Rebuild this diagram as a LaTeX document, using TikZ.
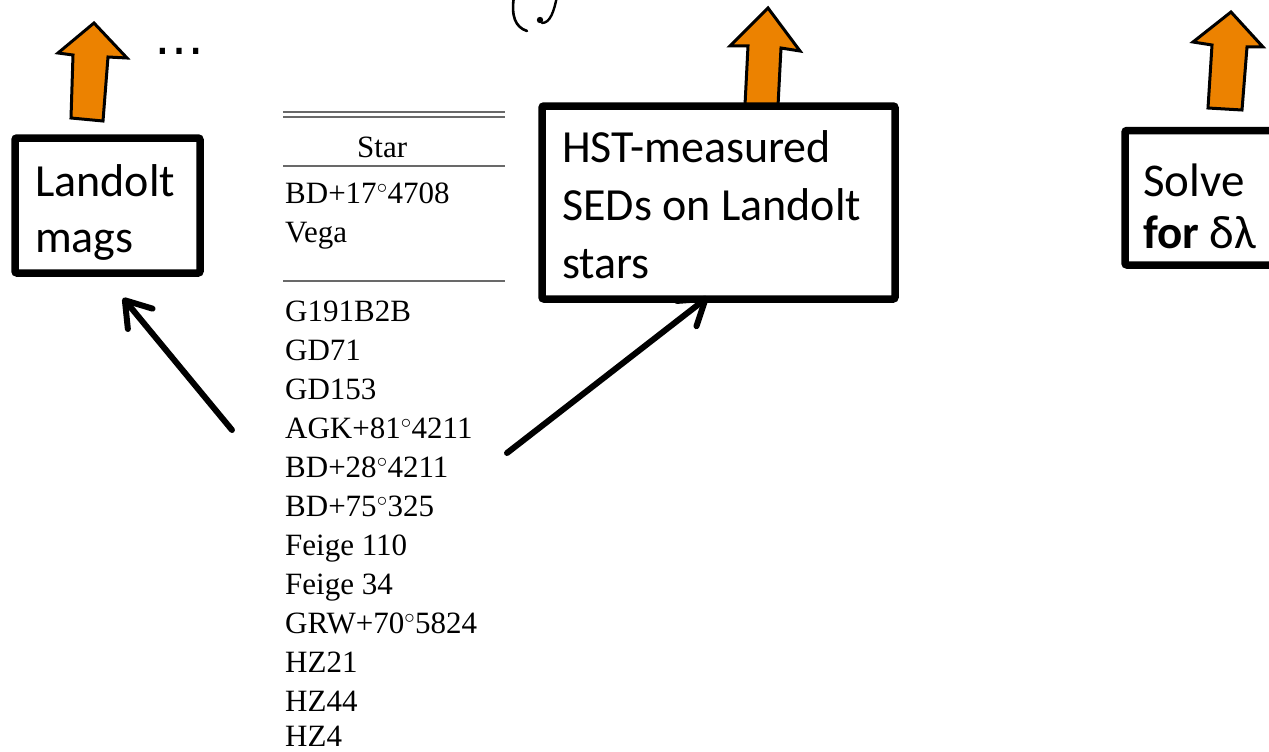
\documentclass[tikz,border=0pt]{standalone}
\usepackage{fontspec}
\setmainfont{Carlito}
\newfontfamily\tabfont{Liberation Serif}
\newfontfamily\dvfont{DejaVu Sans}
\usetikzlibrary{arrows.meta}
\definecolor{orangeA}{RGB}{236,130,0}
\definecolor{rulegray}{RGB}{105,105,105}
\begin{document}
\begin{tikzpicture}[x=1pt,y=-1pt,
  boxst/.style={draw=black, line width=7.5pt, rounded corners=2pt, fill=white, inner sep=0pt},
  boxtext/.style={anchor=base west, inner sep=0pt, align=left},
  blockarrow/.style={fill=orangeA, draw=black, line width=3pt, line join=miter},
  pointer/.style={line width=6pt, line cap=round, -{Straight Barb[length=24pt,width=32pt,round]}},
  tabrow/.style={anchor=base west, inner sep=0pt, font=\tabfont\fontsize{31}{37}\selectfont},
  tabrule/.style={draw=rulegray, line width=1.8pt}]
\useasboundingbox (0,0) rectangle (1269,752);

% partial formula at top edge
\begin{scope}
\clip (0,0) rectangle (1269,752);
\draw[line width=2.6pt, line cap=round] (514,-4) .. controls (511,16) and (515,27) .. (527,31);
\draw[line width=2.4pt, line cap=round] (557,-4) .. controls (554,12) and (550,23) .. (542,23);
\fill (540,20) circle (3.2pt);
\end{scope}

% ellipsis
\node[anchor=base, inner sep=0pt, font=\dvfont\fontsize{50}{60}\selectfont] (dots) at (179,55) {…};

% orange block arrows
\draw[blockarrow] (94,23) -- (127,58) -- (108,57) -- (103,121) -- (71,118) -- (73,55) -- (58,53) -- cycle;
\draw[blockarrow] (768,8) -- (800,51) -- (781,48) -- (778,106) -- (745,105) -- (748,46) -- (730,46) -- cycle;
\draw[blockarrow] (1231,12) -- (1263,47) -- (1247,47) -- (1242,110) -- (1208,108) -- (1212,45) -- (1193,42) -- cycle;

% boxes
\node[boxst, minimum width=185pt, minimum height=135pt] (landoltbox) at (107.5,205.5) {};
\node[boxtext, font=\fontsize{46}{56}\selectfont] (landolttext) at (35,252) {Landolt\\mags};

\node[boxst, minimum width=353pt, minimum height=193pt] (hstbox) at (718.5,202.5) {};
\node[boxtext, font=\fontsize{46}{58}\selectfont] (hsttext) at (562,278) {HST-measured\\SEDs on Landolt\\stars};

\node[boxst, minimum width=200pt, minimum height=134.5pt] (solvebox) at (1225,197.75) {};
\node[boxtext, font=\fontsize{47}{52}\selectfont] (solvetext) at (1143,248) {Solve\\\textbf{for} δλ};

% table
\draw[tabrule] (283,112) -- (505,112);
\draw[tabrule] (283,117) -- (505,117);
\node[tabrow] (hdr) at (357,157) {Star};
\draw[tabrule, line width=1.5pt] (283,166) -- (505,166);
\node[tabrow] (r1) at (285,203) {BD+17$^\circ$4708};
\node[tabrow] (r2) at (285,242) {Vega};
\draw[tabrule] (283,281) -- (505,281);
\node[tabrow] (s1) at (285,321) {G191B2B};
\node[tabrow] (s2) at (285,360) {GD71};
\node[tabrow] (s3) at (285,399) {GD153};
\node[tabrow] (s4) at (285,438) {AGK+81$^\circ$4211};
\node[tabrow] (s5) at (285,477) {BD+28$^\circ$4211};
\node[tabrow] (s6) at (285,516) {BD+75$^\circ$325};
\node[tabrow] (s7) at (285,555) {Feige 110};
\node[tabrow] (s8) at (285,594) {Feige 34};
\node[tabrow] (s9) at (285,633) {GRW+70$^\circ$5824};
\node[tabrow] (s10) at (285,672) {HZ21};
\node[tabrow] (s11) at (285,711) {HZ44};
\node[tabrow] (s12) at (285,746) {HZ4};

% pointers
\coordinate (p1tail) at (232,430);
\coordinate (p1tip) at (123,298);
\coordinate (p2tail) at (507,453);
\coordinate (p2tip) at (708,297);
\draw[pointer] (p1tail) -- (p1tip);
\draw[pointer] (p2tail) -- (p2tip);
\end{tikzpicture}
\end{document}
